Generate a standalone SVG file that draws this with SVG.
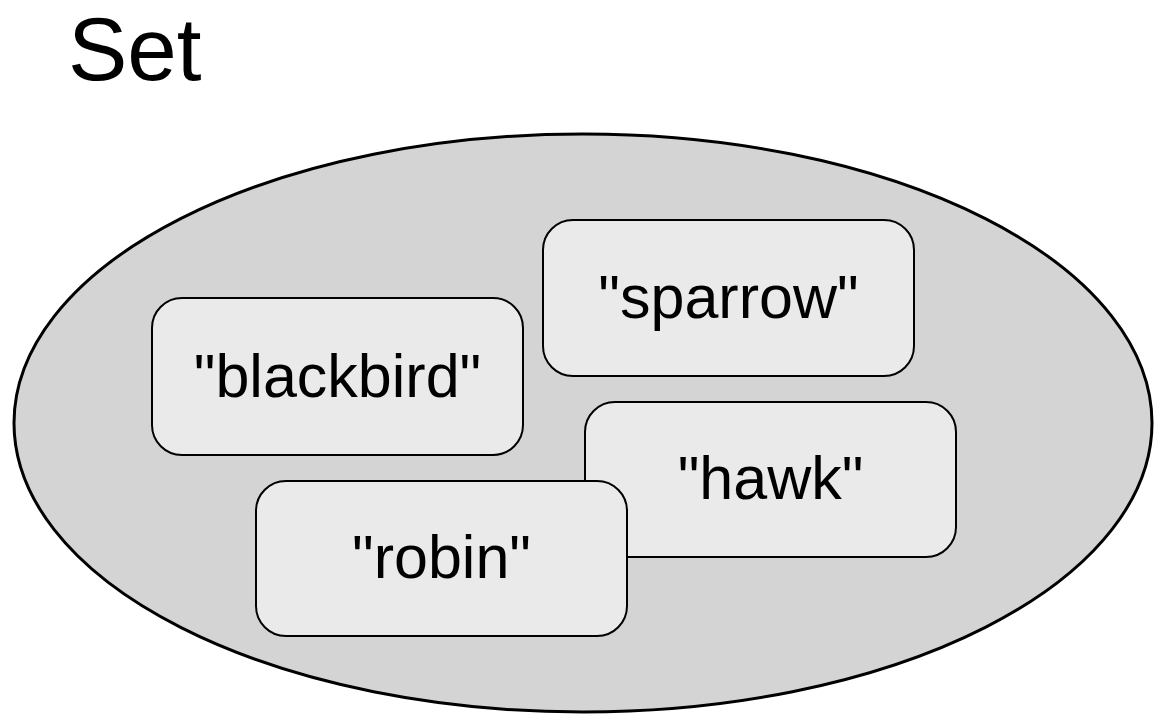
<svg xmlns="http://www.w3.org/2000/svg" width="1168" height="726" viewBox="0 0 1168 726">
<style>
.box{fill:#eaeaea;stroke:#000;stroke-width:2}
.lbl{font-family:"Liberation Sans",Arial,sans-serif;font-size:61px;fill:#000;text-anchor:middle}
</style>
<rect width="1168" height="726" fill="#fff"/>
<text x="68" y="80" font-family="'Liberation Sans',Arial,sans-serif" font-size="89" fill="#000">Set</text>
<g id="set">
<ellipse cx="583" cy="423" rx="569" ry="289" fill="#d4d4d4" stroke="#000" stroke-width="3"/>
</g>
<g id="connectors"></g>
<g id="blackbird">
<rect class="box" x="152" y="298" width="371" height="157" rx="30"/>
<text class="lbl" x="337.5" y="397">"blackbird"</text>
</g>
<g id="sparrow">
<rect class="box" x="543" y="220" width="371" height="156" rx="30"/>
<text class="lbl" x="728.5" y="318">"sparrow"</text>
</g>
<g id="hawk">
<rect class="box" x="585" y="402" width="371" height="155" rx="30"/>
<text class="lbl" x="770.5" y="499">"hawk"</text>
</g>
<g id="robin">
<rect class="box" x="256" y="481" width="371" height="155" rx="30"/>
<text class="lbl" x="441.5" y="578">"robin"</text>
</g>
</svg>
